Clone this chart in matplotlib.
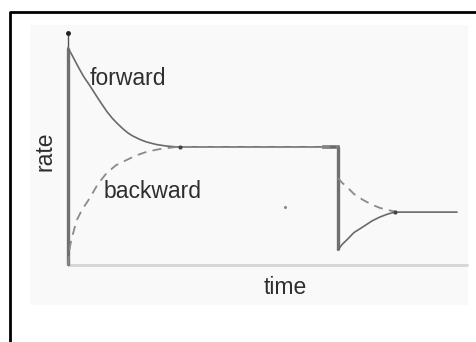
import matplotlib
matplotlib.use("Agg")
import matplotlib.pyplot as plt
from matplotlib.patches import Rectangle
from matplotlib.lines import Line2D

plt.rcParams['font.family'] = ['Liberation Sans', 'DejaVu Sans']

# forward rate, first approach to equilibrium
fwd1_t = [0.0, 0.1, 0.2, 0.3, 0.4, 0.55, 0.65, 0.8, 0.97, 1.1, 1.22, 1.38, 1.5, 1.62, 1.8,
          1.95, 2.1, 2.22, 2.45, 2.72, 6.75]
fwd1_r = [0.935, 0.905, 0.872, 0.84, 0.81, 0.772, 0.745, 0.705, 0.662, 0.634, 0.612, 0.586,
          0.569, 0.556, 0.541, 0.531, 0.524, 0.519, 0.513, 0.509, 0.509]

# backward rate, first approach to equilibrium
bwd1_t = [0.0, 0.05, 0.1, 0.22, 0.35, 0.55, 0.75, 0.97, 1.2, 1.47, 1.7, 1.97, 2.3, 2.72, 6.75]
bwd1_r = [0.0, 0.08, 0.12, 0.194, 0.238, 0.29, 0.35, 0.397, 0.43, 0.453, 0.472, 0.488, 0.5,
          0.509, 0.509]

# after disturbance
fwd2_t = [6.75, 6.85, 6.97, 7.15, 7.38, 7.6, 7.8, 8.0, 8.18, 9.72]
fwd2_r = [0.065, 0.088, 0.108, 0.14, 0.165, 0.19, 0.207, 0.22, 0.228, 0.228]

bwd2_t = [6.75, 6.85, 6.97, 7.15, 7.38, 7.6, 7.8, 8.0, 8.18]
bwd2_r = [0.375, 0.355, 0.337, 0.306, 0.28, 0.26, 0.246, 0.237, 0.23]

# jumps (vertical segments)
jump_t = [0.0, 6.75]
jump_top = [0.935, 0.509]
jump_bot = [0.0, 0.065]

W, H = 476, 342
fig = plt.figure(figsize=(W / 100, H / 100), dpi=100)
fig.patch.set_facecolor('white')

# faint grey panel and black frame
fig.patches.append(Rectangle((30 / W, 1 - 305 / H), 438 / W, 280 / H,
                             transform=fig.transFigure, facecolor='#f9f9f9',
                             edgecolor='none', zorder=-2))
fig.lines.append(Line2D([10 / W, 10 / W, 1.0], [0, 1 - 12 / H, 1 - 12 / H],
                        transform=fig.transFigure, color='black', lw=2.0, zorder=-1))

ax = fig.add_axes([68 / W, 1 - 265 / H, 400 / W, 232 / H])
ax.set_zorder(3)
ax.set_xlim(0, 10)
ax.set_ylim(0, 1)
ax.axis('off')

# axes
ax.plot([0, 10], [0, 0], color='#d4d4d4', lw=2.0, clip_on=False, solid_capstyle='butt')
ax.plot([0, 0], [0, 1.0], color='#555555', lw=1.0, clip_on=False)
ax.plot([0], [1.0], 'o', color='#222222', ms=2.5, clip_on=False)

# vertical jumps
for t, top, bot in zip(jump_t, jump_top, jump_bot):
    ax.plot([t, t], [bot, top], color='#707070', lw=2.4, clip_on=False, solid_capstyle='butt')
ax.plot([6.4, 6.75], [0.509, 0.509], color='#707070', lw=2.6, clip_on=False)

ax.plot(fwd1_t, fwd1_r, color='#6a6a6a', lw=1.2, clip_on=False)
ax.plot(bwd1_t, bwd1_r, color='#8a8a8a', lw=1.3, ls=(0, (5, 3.5)), clip_on=False)
ax.plot(fwd2_t, fwd2_r, color='#6a6a6a', lw=1.2, clip_on=False)
ax.plot(bwd2_t, bwd2_r, color='#8a8a8a', lw=1.3, ls=(0, (5, 3.5)), clip_on=False)

ax.plot([2.8, 8.18], [0.509, 0.228], 'o', color='#444444', ms=2, clip_on=False)
ax.plot([5.43], [0.25], 'o', color='#888888', ms=1.2, clip_on=False)

ax.text(0.55, 0.775, 'forward', fontsize=16.5, color='#2e2e2e', ha='left', va='baseline')
ax.text(0.9, 0.29, 'backward', fontsize=16.5, color='#2e2e2e', ha='left', va='baseline')

fig.text(285 / W, 1 - 287 / H, 'time', fontsize=16.5, color='#2e2e2e', ha='center', va='center')
fig.text(45 / W, 1 - 151 / H, 'rate', fontsize=16.5, color='#2e2e2e', ha='center', va='center',
         rotation=90)

fig.savefig('out.png', dpi=100)
